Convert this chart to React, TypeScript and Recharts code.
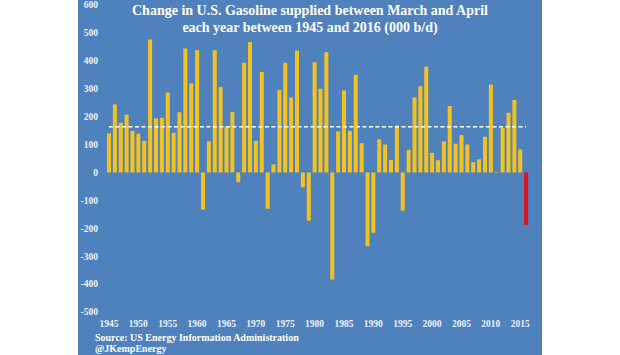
import { BarChart, Bar, XAxis, YAxis, Cell, ReferenceLine } from "recharts";

// Change in March->April gasoline supplied, 000 b/d
const YEARS = [
  "1945", "1946", "1947", "1948", "1949", "1950", "1951", "1952", "1953", "1954",
  "1955", "1956", "1957", "1958", "1959", "1960", "1961", "1962", "1963", "1964",
  "1965", "1966", "1967", "1968", "1969", "1970", "1971", "1972", "1973", "1974",
  "1975", "1976", "1977", "1978", "1979", "1980", "1981", "1982", "1983", "1984",
  "1985", "1986", "1987", "1988", "1989", "1990", "1991", "1992", "1993", "1994",
  "1995", "1996", "1997", "1998", "1999", "2000", "2001", "2002", "2003", "2004",
  "2005", "2006", "2007", "2008", "2009", "2010", "2011", "2012", "2013", "2014",
  "2015", "2016",
];

const CHANGE = [
  140, 244, 178, 207, 149, 139, 113, 476, 194, 196,
  286, 142, 216, 444, 319, 438, -133, 112, 438, 306,
  164, 216, -35, 393, 467, 113, 360, -130, 29, 296,
  393, 269, 437, -53, -173, 395, 300, 431, -384, 147,
  294, 149, 350, 105, -264, -216, 119, 100, 45, 168,
  -137, 81, 269, 309, 379, 70, 44, 111, 238, 103,
  134, 100, 37, 47, 128, 315, -2, 160, 214, 260,
  82, -188,
];

const AVERAGE = 164;
const HIGHLIGHT_YEAR = "2016";

const Y_TICKS = [-500, -400, -300, -200, -100, 0, 100, 200, 300, 400, 500, 600];
const X_TICKS = [
  "1945", "1950", "1955", "1960", "1965", "1970", "1975", "1980",
  "1985", "1990", "1995", "2000", "2005", "2010", "2015",
];

const data = YEARS.map((year, i) => ({ year, change: CHANGE[i] }));

const BLUE = "#4f81bd";
const YELLOW = "#f4c21f";
const RED = "#e0141c";
const FONT = "'Liberation Serif', 'DejaVu Serif', serif";

const tickStyle = { fill: "#eef2fa", fontSize: 9.5, fontWeight: 700, fontFamily: FONT };

export default function App() {
  return (
    <div style={{ position: "absolute", left: 0, top: 0, width: 620, height: 355, background: "#fff", overflow: "hidden" }}>
      <div style={{ position: "absolute", left: 78, top: 0, width: 464, height: 355, background: BLUE }}>
        <BarChart
          width={464}
          height={355}
          data={data}
          margin={{ top: 5, right: 13, left: 4, bottom: 13 }}
          barSize={4}
        >
          <XAxis
            dataKey="year"
            ticks={X_TICKS}
            interval={0}
            tick={tickStyle}
            axisLine={false}
            tickLine={false}
            height={30}
          />
          <YAxis
            domain={[-500, 600]}
            ticks={Y_TICKS}
            tick={tickStyle}
            axisLine={false}
            tickLine={false}
            width={24}
          />
          <Bar dataKey="change" fill={YELLOW} isAnimationActive={false}>
            {data.map((d) => (
              <Cell key={d.year} fill={d.year === HIGHLIGHT_YEAR ? RED : YELLOW} />
            ))}
          </Bar>
          <ReferenceLine
            segment={[
              { x: "1945", y: AVERAGE },
              { x: "2016", y: AVERAGE },
            ]}
            stroke="#ffffff"
            strokeWidth={1.5}
            strokeDasharray="4 2.5"
          />
        </BarChart>

        {/* title */}
        <div
          style={{
            position: "absolute",
            left: 0,
            top: 2,
            width: 464,
            textAlign: "center",
            color: "#ffffff",
            fontFamily: FONT,
            fontWeight: 700,
            fontSize: 14,
            lineHeight: "17px",
          }}
        >
          Change in U.S. Gasoline supplied between March and April
          <br />
          each year between 1945 and 2016 (000 b/d)
        </div>

        {/* source */}
        <div
          style={{
            position: "absolute",
            left: 17,
            top: 332,
            color: "#ffffff",
            fontFamily: FONT,
            fontWeight: 700,
            fontSize: 10,
            lineHeight: "11px",
          }}
        >
          Source: US Energy Information Administration
          <br />
          @JKempEnergy
        </div>
      </div>
    </div>
  );
}
